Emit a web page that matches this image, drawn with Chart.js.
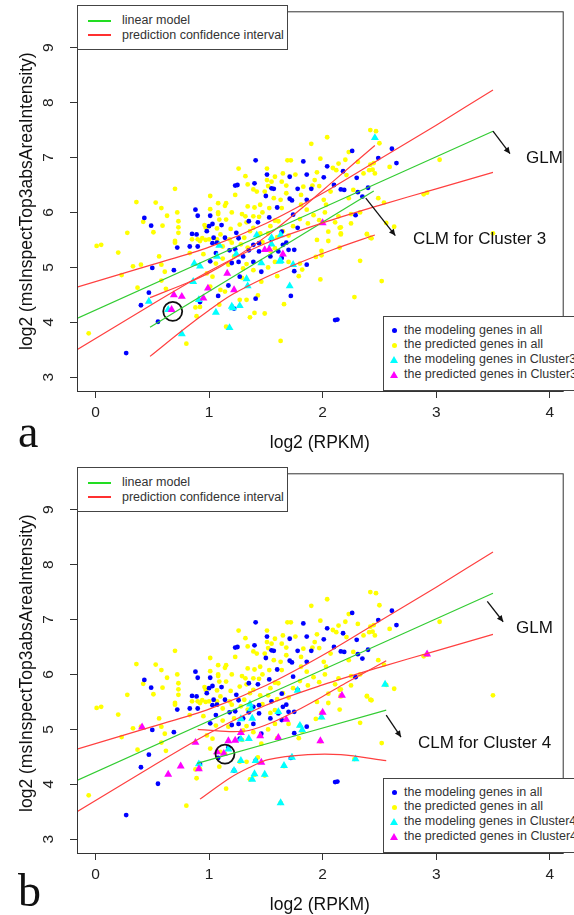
<!DOCTYPE html>
<html>
<head>
<meta charset="utf-8">
<script src="https://cdn.jsdelivr.net/npm/chart.js@4.4.1/dist/chart.umd.min.js"></script>
<style>
  body { margin: 0; background: #fff; width: 574px; height: 915px; overflow: hidden; position: relative;
         font-family: "Liberation Sans", Arial, sans-serif; }
  .panel { position: absolute; left: 0; width: 574px; height: 453px; }
  .panel canvas { position: absolute; left: 0; top: 0; }
  .box { position: absolute; border: 1px solid #444; background: #fff; box-sizing: border-box; font-size: 12.5px; color: #333; }
  .row { position: absolute; white-space: nowrap; line-height: 14px; }
  .swatch { position: absolute; width: 23px; height: 2px; margin-top: -1px; }
  .dot { position: absolute; width: 5px; height: 5px; border-radius: 50%; margin: -2.5px 0 0 -2.5px; }
  .tri { position: absolute; width: 0; height: 0; border-left: 4px solid transparent; border-right: 4px solid transparent;
         border-bottom: 7px solid; margin: -4px 0 0 -4px; }
  .note { position: absolute; font-size: 17px; line-height: 17px; color: #111; white-space: nowrap; }
  .letter { position: absolute; font-family: "Liberation Serif", "DejaVu Serif", serif; font-size: 46px; line-height: 46px; color: #111; }
</style>
</head>
<body>

<div class="panel" style="top:0">
  <canvas id="chartA" width="574" height="453"></canvas>
  <div class="box" style="left:77px;top:5px;width:211px;height:45px">
    <div class="swatch" style="left:10px;top:15px;background:#22dd22"></div>
    <div class="row" style="left:44px;top:7px">linear model</div>
    <div class="swatch" style="left:10px;top:29px;background:#ff3030"></div>
    <div class="row" style="left:44px;top:21.7px">prediction confidence interval</div>
  </div>
  <div class="box" style="left:383px;top:316px;width:200px;height:75px">
    <div class="dot" style="left:10px;top:13.5px;background:#0000ff"></div>
    <div class="row" style="left:20px;top:5.7px">the modeling genes in all</div>
    <div class="dot" style="left:10px;top:28.2px;background:#ffff00"></div>
    <div class="row" style="left:20px;top:20.4px">the predicted genes in all</div>
    <div class="tri" style="left:10px;top:42.9px;border-bottom-color:#00ffff"></div>
    <div class="row" style="left:20px;top:35.1px">the modeling genes in Cluster3</div>
    <div class="tri" style="left:10px;top:57.5px;border-bottom-color:#ff00ff"></div>
    <div class="row" style="left:20px;top:49.7px">the predicted genes in Cluster3</div>
  </div>
  <div class="note" style="left:526px;top:148.7px">GLM</div>
  <div class="note" style="left:413px;top:229.7px">CLM for Cluster 3</div>
  <div class="letter" style="left:18px;top:408.5px">a</div>
</div>

<div class="panel" style="top:462px">
  <canvas id="chartB" width="574" height="453"></canvas>
  <div class="box" style="left:77px;top:5px;width:211px;height:45px">
    <div class="swatch" style="left:10px;top:15px;background:#22dd22"></div>
    <div class="row" style="left:44px;top:7px">linear model</div>
    <div class="swatch" style="left:10px;top:29px;background:#ff3030"></div>
    <div class="row" style="left:44px;top:21.7px">prediction confidence interval</div>
  </div>
  <div class="box" style="left:383px;top:316px;width:200px;height:75px">
    <div class="dot" style="left:10px;top:13.5px;background:#0000ff"></div>
    <div class="row" style="left:20px;top:5.7px">the modeling genes in all</div>
    <div class="dot" style="left:10px;top:28.2px;background:#ffff00"></div>
    <div class="row" style="left:20px;top:20.4px">the predicted genes in all</div>
    <div class="tri" style="left:10px;top:42.9px;border-bottom-color:#00ffff"></div>
    <div class="row" style="left:20px;top:35.1px">the modeling genes in Cluster4</div>
    <div class="tri" style="left:10px;top:57.5px;border-bottom-color:#ff00ff"></div>
    <div class="row" style="left:20px;top:49.7px">the predicted genes in Cluster4</div>
  </div>
  <div class="note" style="left:516px;top:156.7px">GLM</div>
  <div class="note" style="left:418px;top:271.7px">CLM for Cluster 4</div>
  <div class="letter" style="left:18px;top:405.5px">b</div>
</div>

<script>
// axes
const xTicks = [0, 1, 2, 3, 4];
const yTicks = [3, 4, 5, 6, 7, 8, 9];
const xRange = [-0.163, 4.114];
const yRange = [2.749, 9.663];

// genes shared by both panels: [log2 RPKM, log2 intensity]
const modelingAll = [
  [1.41,6.95],[1.51,6.69],[1.40,6.53],[1.23,6.49],[1.25,6.50],[1.50,6.30],[1.55,6.44],[0.88,6.05],[0.90,5.94],
  [0.43,5.90],[0.49,5.76],[1.01,5.94],[1.03,5.79],[1.00,5.75],[1.11,5.77],[1.43,5.82],[1.53,5.91],[0.98,5.66],
  [0.85,5.61],[1.04,5.54],[1.14,5.54],[1.24,5.63],[1.26,5.53],[1.35,5.84],[1.55,5.51],[2.26,7.12],[2.61,7.16],
  [2.49,6.99],[2.65,6.90],[1.83,6.93],[2.04,6.84],[2.18,6.75],[2.01,6.64],[1.86,6.69],[1.71,6.65],[1.57,6.43],
  [1.78,6.43],[1.90,6.43],[2.10,6.50],[2.16,6.42],[2.19,6.41],[2.30,6.63],[2.31,6.37],[2.40,6.45],[2.35,6.29],
  [1.71,6.25],[1.73,6.22],[1.86,6.23],[1.60,6.09],[1.74,5.96],[1.78,5.72],[2.29,5.95],[0.27,3.44],[0.40,4.31],
  [0.47,4.54],[0.50,4.99],[0.69,4.95],[0.55,4.01],[0.72,5.36],[0.83,5.38],[0.90,5.38],[1.03,5.44],[1.01,5.11],
  [1.06,5.26],[1.18,5.31],[1.23,5.33],[1.30,5.20],[1.35,5.31],[1.39,5.41],[1.44,5.44],[1.39,5.10],[1.46,4.92],
  [1.26,5.10],[1.08,4.48],[1.17,4.67],[0.92,4.37],[1.22,4.25],[1.41,4.43],[1.54,5.20],[0.89,5.60],[1.07,5.45],
  [1.44,5.29],[1.27,4.83],[1.20,5.08],[1.64,5.65],[1.68,5.45],[1.61,5.29],[1.70,5.32],[1.75,5.32],[1.64,5.17],
  [1.65,5.41],[1.75,4.93],[1.86,5.05],[1.72,4.48],[2.11,4.04],[2.13,4.05]
];
const predictedAll = [
  [0.28,5.63],[0.36,6.19],[0.42,5.83],[0.51,5.64],[0.53,6.18],[0.58,6.08],[0.59,5.76],[0.63,5.94],[0.70,6.43],
  [0.72,6.00],[0.73,5.84],[0.73,5.73],[0.73,5.63],[0.70,5.48],[1.01,6.30],[1.01,6.06],[1.08,6.00],[1.08,6.17],
  [1.15,6.17],[1.14,6.12],[1.23,6.32],[1.26,6.80],[1.32,6.66],[1.34,6.51],[1.39,6.42],[1.42,6.38],[1.51,6.80],
  [1.51,6.59],[1.49,6.38],[1.52,6.48],[1.34,6.11],[1.40,6.09],[1.45,6.14],[1.53,6.08],[1.29,5.97],[1.32,5.93],
  [1.39,5.93],[1.27,5.78],[1.33,5.82],[1.09,5.87],[1.08,5.97],[0.96,5.77],[0.97,5.72],[1.07,5.71],[1.19,5.70],
  [1.10,5.60],[0.94,5.53],[0.90,5.51],[0.85,5.51],[1.00,5.51],[1.07,5.51],[1.18,5.51],[1.31,5.54],[1.39,5.72],
  [2.42,7.50],[2.47,7.48],[2.50,7.26],[2.04,7.37],[1.90,7.25],[1.69,6.95],[1.72,6.95],[1.98,6.98],[2.20,6.96],
  [2.23,7.10],[2.31,6.92],[2.14,6.89],[2.09,6.81],[2.12,6.77],[2.21,6.68],[1.95,6.73],[2.42,6.87],[2.45,6.90],
  [2.41,6.77],[2.44,6.78],[2.46,6.71],[2.36,6.71],[2.59,6.83],[3.03,6.96],[1.65,6.71],[1.76,6.69],[1.58,6.65],
  [1.55,6.56],[1.64,6.56],[1.93,6.59],[1.91,6.49],[1.97,6.48],[1.83,6.47],[1.68,6.49],[1.68,6.35],[1.57,6.26],
  [1.63,6.23],[1.81,6.32],[2.01,6.23],[2.07,6.38],[2.23,6.26],[2.27,6.41],[2.49,6.26],[2.54,6.18],[2.89,6.33],
  [2.92,6.36],[1.64,6.08],[1.81,6.14],[2.03,6.14],[2.14,5.93],[2.25,5.97],[2.33,6.00],[2.11,5.82],[2.16,5.73],
  [2.16,5.62],[1.58,5.85],[1.54,5.75],[1.65,5.66],[1.61,5.84],[2.39,5.61],[2.43,5.53],[2.63,5.74],[2.56,5.81],
  [0.01,5.39],[0.05,5.41],[0.20,5.27],[-0.06,3.80],[0.23,4.86],[0.33,5.02],[0.40,5.05],[0.37,4.63],[0.58,5.05],
  [0.61,4.92],[0.56,5.20],[0.58,4.76],[0.62,4.61],[0.70,5.45],[0.83,5.26],[0.80,3.61],[0.88,4.27],[0.92,4.28],
  [0.89,4.11],[0.95,5.24],[0.98,4.89],[1.03,4.83],[1.06,5.07],[1.01,4.65],[1.10,4.59],[1.09,4.32],[1.15,3.92],
  [1.14,4.56],[1.27,4.41],[1.29,4.81],[1.33,4.41],[1.39,4.95],[1.40,4.17],[1.36,4.09],[1.49,4.16],[1.46,4.74],
  [1.43,4.49],[1.30,4.98],[0.92,5.48],[0.97,5.50],[1.99,5.30],[1.94,5.19],[1.99,5.22],[2.15,5.36],[2.42,5.54],
  [2.33,5.12],[1.80,5.07],[1.82,4.96],[1.79,4.84],[1.60,4.84],[1.98,4.78],[2.52,4.75],[2.28,4.46],[1.66,4.33],
  [1.63,3.66],[2.16,5.60],[2.15,5.72],[2.39,5.60],[3.50,5.62],[1.12,5.38],[1.20,5.45],[1.28,5.42],[1.34,5.36],
  [1.47,5.46],[1.52,5.62],[1.45,5.62],[1.36,5.66],[1.60,5.55],[1.70,5.58],[1.74,5.75],[1.80,5.88],[1.87,5.80],
  [1.92,5.95],[1.97,5.86],[2.02,6.00],[1.86,6.05],[1.47,6.00],[1.44,5.92],[1.20,6.00],[1.15,5.87],[1.22,5.20],
  [1.12,5.16],[1.17,5.05],[1.33,5.06],[1.52,5.00],[1.58,5.10],[1.70,5.10],[1.54,5.30],[1.58,5.35],[1.95,5.50],
  [2.05,5.48],[2.05,5.65],[2.25,5.80]
];

// GLM fit and band
const glmLineX = [-0.163, 3.5];
const glmLineY = [4.07, 7.48];
const glmBandX = [-0.163, 0.5, 1.0, 1.5, 2.0, 2.5, 3.0, 3.5];
const glmUpper = [4.64, 5.05, 5.37, 5.80, 6.35, 6.97, 7.59, 8.23];
const glmLower = [3.50, 4.33, 4.93, 5.44, 5.81, 6.13, 6.43, 6.73];

// panel a: cluster 3
const c3Model = [
  [0.47,4.38],[0.76,3.79],[0.64,4.23],[0.86,4.74],[0.87,5.07],[0.92,5.02],[0.91,4.41],[1.06,4.18],[1.18,3.90],
  [1.20,4.29],[1.21,4.26],[1.27,4.30],[1.34,4.66],[1.33,4.79],[1.46,5.08],[1.09,5.40],[1.07,5.20],[1.24,5.24],
  [1.42,5.59],[1.55,5.54],[1.63,5.59],[1.63,5.12],[1.71,4.66],[1.55,5.42],[1.62,5.11],[1.74,5.05],[2.46,7.36]
];
const c3Pred = [
  [0.69,4.50],[0.76,4.47],[0.67,4.23],[0.95,4.44],[0.99,4.62],[1.16,4.89],[1.22,4.59],[1.49,5.32],[1.53,5.33],
  [2.00,5.81],[1.65,5.24]
];
const c3LineX = [0.48, 2.45];
const c3LineY = [3.91, 6.39];
const c3BandX = [0.48, 0.8, 1.0, 1.2, 1.5, 1.8, 2.1, 2.46];
const c3Upper = [4.45, 4.71, 4.90, 5.14, 5.56, 6.05, 6.58, 7.22];
const c3Lower = [3.38, 3.91, 4.22, 4.50, 4.82, 5.09, 5.33, 5.59];
const c3Circle = [0.68, 4.20];

// panel b: cluster 4
const c4Model = [
  [0.91,4.37],[1.28,5.19],[1.38,5.20],[1.37,5.37],[1.36,5.46],[1.61,5.32],[1.28,4.82],[1.35,4.83],[1.22,4.25],
  [1.28,4.43],[1.41,4.43],[1.38,4.09],[1.40,4.19],[1.49,4.18],[1.63,3.66],[1.66,4.34],[1.73,4.49],[1.17,4.64],
  [2.29,4.46],[1.80,5.07],[1.82,4.99],[1.99,5.22],[2.55,5.82],[1.78,5.71]
];
const c4Pred = [
  [0.41,5.04],[0.88,4.76],[0.75,4.33],[0.64,4.18],[0.91,4.28],[1.07,4.59],[1.13,4.56],[1.17,4.79],[1.23,4.80],
  [1.28,4.94],[1.45,4.88],[1.46,4.40],[1.61,4.85],[1.68,5.18],[2.17,5.62],[2.00,5.31],[1.98,4.79],[2.92,6.37]
];
const c4LineX = [0.895, 2.56];
const c4LineY = [4.38, 5.35];
const c4UpperX = [0.9, 1.18, 1.35, 1.56, 1.76, 2.0, 2.2, 2.56];
const c4Upper = [5.0, 4.96, 4.98, 5.13, 5.33, 5.6, 5.84, 6.25];
const c4LowerX = [0.92, 1.18, 1.35, 1.52, 1.87, 2.16, 2.56];
const c4Lower = [3.73, 4.11, 4.30, 4.45, 4.54, 4.54, 4.43];
const c4Circle = [1.14, 4.55];

// arrows pointing at the labels: [fromX, fromY, toX, toY]
const arrowsA = [[3.50, 7.48, 3.65, 7.07], [2.38, 6.26, 2.64, 5.58]];
const arrowsB = [[3.45, 7.33, 3.59, 6.96], [2.56, 5.26, 2.69, 4.86]];

const GREEN = '#33cc33', RED = '#ff4040';
Chart.defaults.font.family = '"Liberation Sans", Arial, sans-serif';

function pts(list) {
  return list.map(p => ({ x: p[0], y: p[1] }));
}

function lineSet(xs, ys, color) {
  return {
    data: xs.map((x, i) => ({ x: x, y: ys[i] })),
    showLine: true, borderColor: color, borderWidth: 1.2, pointRadius: 0, tension: 0.3, fill: false
  };
}

// box around the plot + arrows
const framePlugin = {
  id: 'frame',
  afterDatasetsDraw(chart, args, opts) {
    const { ctx, chartArea: a, scales: { x, y } } = chart;
    ctx.save();
    ctx.strokeStyle = '#111';
    ctx.fillStyle = '#111';
    ctx.lineWidth = 1.3;
    (opts.arrows || []).forEach(ar => {
      const x0 = x.getPixelForValue(ar[0]), y0 = y.getPixelForValue(ar[1]);
      const x1 = x.getPixelForValue(ar[2]), y1 = y.getPixelForValue(ar[3]);
      const ang = Math.atan2(y1 - y0, x1 - x0);
      ctx.beginPath();
      ctx.moveTo(x0, y0);
      ctx.lineTo(x1, y1);
      ctx.stroke();
      ctx.beginPath();
      ctx.moveTo(x1, y1);
      ctx.lineTo(x1 - 7 * Math.cos(ang - 0.45), y1 - 7 * Math.sin(ang - 0.45));
      ctx.lineTo(x1 - 7 * Math.cos(ang + 0.45), y1 - 7 * Math.sin(ang + 0.45));
      ctx.closePath();
      ctx.fill();
    });
    ctx.strokeStyle = '#333';
    ctx.lineWidth = 1;
    ctx.strokeRect(a.left + 0.5, a.top + 0.5, a.right - a.left, a.bottom - a.top);
    ctx.restore();
  }
};

function drawPanel(id, p) {
  const ctx = document.getElementById(id).getContext('2d');
  new Chart(ctx, {
    type: 'scatter',
    data: {
      datasets: [
        lineSet(glmLineX, glmLineY, GREEN),
        lineSet(glmBandX, glmUpper, RED),
        lineSet(glmBandX, glmLower, RED),
        lineSet(p.lineX, p.lineY, GREEN),
        lineSet(p.upX, p.up, RED),
        lineSet(p.loX, p.lo, RED),
        { data: pts([p.circle]), pointStyle: 'circle', pointRadius: 9.5,
          backgroundColor: 'rgba(0,0,0,0)', borderColor: '#111', borderWidth: 1.8 },
        { data: pts(p.pred), pointStyle: 'triangle', pointRadius: 4.6, backgroundColor: '#ff00ff', borderWidth: 0 },
        { data: pts(p.model), pointStyle: 'triangle', pointRadius: 4.6, backgroundColor: '#00ffff', borderWidth: 0 },
        { data: pts(modelingAll), pointRadius: 2.4, backgroundColor: '#0000ff', borderWidth: 0 },
        { data: pts(predictedAll), pointRadius: 2.4, backgroundColor: '#ffff00', borderWidth: 0 }
      ]
    },
    options: {
      responsive: false,
      animation: false,
      devicePixelRatio: 1,
      layout: { padding: { top: 5, left: 0, right: 0, bottom: 0 } },
      plugins: {
        legend: { display: false },
        tooltip: { enabled: false },
        frame: { arrows: p.arrows }
      },
      scales: {
        x: {
          min: xRange[0], max: xRange[1],
          afterBuildTicks: s => { s.ticks = xTicks.map(v => ({ value: v })); },
          afterFit: s => { s.height = 62; s.paddingLeft = 0; s.paddingRight = 0; },
          border: { display: false },
          grid: { drawOnChartArea: false, drawTicks: true, tickLength: 7, color: '#333' },
          ticks: { color: '#222', font: { size: 15.5 }, padding: 5, maxRotation: 0 },
          title: { display: true, text: 'log2 (RPKM)', color: '#111', font: { size: 17.5 }, padding: { top: 0, bottom: -1 } }
        },
        y: {
          min: yRange[0], max: yRange[1],
          afterBuildTicks: s => { s.ticks = yTicks.map(v => ({ value: v })); },
          afterFit: s => { s.width = 77; s.paddingTop = 0; s.paddingBottom = 0; },
          border: { display: false },
          grid: { drawOnChartArea: false, drawTicks: true, tickLength: 7, color: '#333' },
          ticks: { color: '#222', font: { size: 15.5 }, padding: 17, minRotation: 90, maxRotation: 90, crossAlign: 'center' },
          title: { display: true, text: 'log2 (msInspectTop3absAreaIntensity)', color: '#111', font: { size: 17.5 },
                   padding: { top: 17, bottom: 0 } }
        }
      }
    },
    plugins: [framePlugin]
  });
}

drawPanel('chartA', {
  model: c3Model, pred: c3Pred, lineX: c3LineX, lineY: c3LineY,
  upX: c3BandX, up: c3Upper, loX: c3BandX, lo: c3Lower, circle: c3Circle, arrows: arrowsA
});
drawPanel('chartB', {
  model: c4Model, pred: c4Pred, lineX: c4LineX, lineY: c4LineY,
  upX: c4UpperX, up: c4Upper, loX: c4LowerX, lo: c4Lower, circle: c4Circle, arrows: arrowsB
});
</script>
</body>
</html>
